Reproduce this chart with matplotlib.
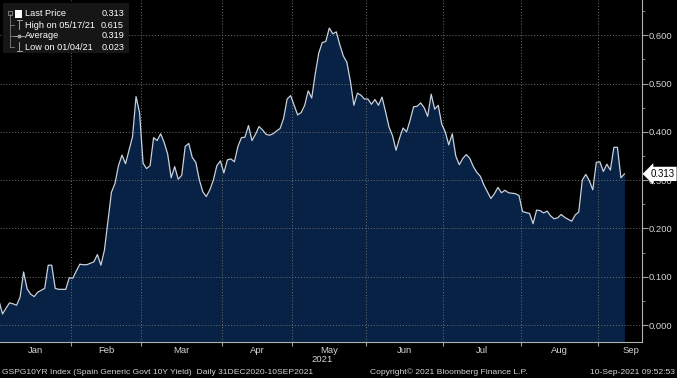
import numpy as np
import matplotlib
matplotlib.use('Agg')
import matplotlib.pyplot as plt
from matplotlib.ticker import MultipleLocator, FormatStrFormatter
from matplotlib.lines import Line2D
from matplotlib.patches import Rectangle
import matplotlib.transforms as mtransforms

plt.rcParams['font.family'] = ['Liberation Sans', 'DejaVu Sans']

# daily closes, one per trading day, 31 Dec 2020 .. 10 Sep 2021
yld = [0.050, 0.023, 0.035, 0.046, 0.044, 0.041, 0.058, 0.110, 0.075, 0.064,
       0.059, 0.068, 0.072, 0.076, 0.124, 0.124, 0.076, 0.074, 0.074, 0.074,
       0.098, 0.097, 0.112, 0.126, 0.125, 0.125, 0.128, 0.131, 0.146, 0.124,
       0.155, 0.215, 0.275, 0.293, 0.330, 0.352, 0.334, 0.362, 0.390, 0.473,
       0.440, 0.335, 0.324, 0.330, 0.388, 0.382, 0.396, 0.378, 0.354, 0.305,
       0.328, 0.302, 0.310, 0.370, 0.376, 0.347, 0.337, 0.301, 0.276, 0.266,
       0.280, 0.300, 0.330, 0.340, 0.315, 0.342, 0.344, 0.338, 0.370, 0.388,
       0.389, 0.413, 0.382, 0.395, 0.411, 0.404, 0.395, 0.393, 0.396, 0.402,
       0.407, 0.428, 0.468, 0.475, 0.455, 0.435, 0.440, 0.455, 0.485, 0.470,
       0.520, 0.563, 0.585, 0.587, 0.615, 0.603, 0.607, 0.580, 0.557, 0.544,
       0.505, 0.455, 0.480, 0.476, 0.468, 0.468, 0.457, 0.467, 0.455, 0.472,
       0.442, 0.410, 0.392, 0.362, 0.387, 0.408, 0.400, 0.424, 0.452, 0.453,
       0.460, 0.450, 0.432, 0.478, 0.447, 0.455, 0.416, 0.400, 0.373, 0.396,
       0.350, 0.332, 0.345, 0.353, 0.345, 0.328, 0.316, 0.308, 0.290, 0.276,
       0.262, 0.272, 0.285, 0.274, 0.279, 0.274, 0.273, 0.272, 0.268, 0.235,
       0.233, 0.231, 0.210, 0.238, 0.237, 0.232, 0.236, 0.226, 0.220, 0.222,
       0.229, 0.223, 0.219, 0.215, 0.228, 0.234, 0.300, 0.312, 0.299, 0.280,
       0.337, 0.338, 0.318, 0.333, 0.321, 0.368, 0.368, 0.305, 0.313]

months = ['Jan', 'Feb', 'Mar', 'Apr', 'May', 'Jun', 'Jul', 'Aug', 'Sep']
month_start = [1, 21, 41, 64, 84, 105, 127, 149, 171]   # index of first trading day

legend_names = ['Last Price', 'High on 05/17/21', 'Average', 'Low on 01/04/21']
legend_vals = ['0.313', '0.615', '0.319', '0.023']
last_price = '0.313'

footer_left = 'GSPG10YR Index (Spain Generic Govt 10Y Yield)  Daily 31DEC2020-10SEP2021'
footer_mid = 'Copyright\u00a9 2021 Bloomberg Finance L.P.'
footer_right = '10-Sep-2021 09:52:53'

txt = '#d4d4d4'
navy = '#072244'

x = np.arange(len(yld))
y = np.array(yld)

fig = plt.figure(figsize=(6.77, 3.78), dpi=100, facecolor='black')
ax = fig.add_axes([0, 36/378, 642/677, 342/378])
ax.set_facecolor('black')

ymin, ymax = -0.035, 0.673
ax.fill_between(x, y, ymin, color=navy, lw=0, zorder=1)
ax.plot(x, y, color='#c9d1dc', lw=0.9, zorder=3)

ax.set_xlim(0.28, 183.0)
ax.set_ylim(ymin, ymax)

bounds = [s - 0.5 for s in month_start]
centers = [(a + b) / 2 for a, b in zip([0] + bounds[1:], bounds[1:] + [189.5])]
ax.set_xticks(bounds[1:])
ax.set_xticklabels([])
ax.set_xticks(centers, minor=True)
ax.set_xticklabels(months, minor=True)
ax.tick_params(axis='x', which='major', direction='out', length=3, color='#a0a0a0')
ax.tick_params(axis='x', which='minor', length=0, pad=3, labelsize=6.8, labelcolor=txt)
ax.text(92, -0.052, '2021', transform=ax.get_xaxis_transform(), ha='center', va='center',
        fontsize=6.8, color=txt)

ax.yaxis.tick_right()
ax.yaxis.set_major_locator(MultipleLocator(0.1))
ax.yaxis.set_minor_locator(MultipleLocator(0.05))
ax.yaxis.set_major_formatter(FormatStrFormatter('%.3f'))
ax.tick_params(axis='y', which='major', direction='out', length=4, color='#a0a0a0',
               labelsize=6.8, labelcolor=txt, pad=1)
ax.tick_params(axis='y', which='minor', direction='out', length=2, color='#a0a0a0')

ax.grid(True, which='major', color='#707070', ls=(0, (1, 2)), lw=0.7)
for s in ['top', 'left']:
    ax.spines[s].set_visible(False)
for s in ['right', 'bottom']:
    ax.spines[s].set_color('#b0b0b0')
    ax.spines[s].set_linewidth(0.8)

# last price tag
trans = mtransforms.blended_transform_factory(ax.transAxes, ax.transData)
ax.text(1.013, y[-1], last_price, transform=trans, ha='left', va='center', fontsize=7,
        color='black', zorder=10, clip_on=False,
        bbox=dict(boxstyle='larrow,pad=0.22', fc='white', ec='none'))

# legend panel drawn in pixel space
ov = fig.add_axes([0, 0, 1, 1], facecolor='none')
ov.set_xlim(0, 677)
ov.set_ylim(378, 0)
ov.axis('off')
ov.add_patch(Rectangle((3, 3), 126, 50, fc='#161616', ec='none'))
rows = [14, 25, 36, 47]
ov.add_line(Line2D([10, 10], [14, 47], color='#808080', lw=0.6))
ov.add_patch(Rectangle((8, 11), 4, 4, fc='none', ec='#909090', lw=0.6))
ov.add_patch(Rectangle((15, 10), 7, 7.5, fc='white', ec='none'))
for r in rows[1:]:
    ov.add_line(Line2D([10, 14], [r, r], color='#808080', lw=0.6))
ov.add_line(Line2D([19, 19], [20, 29], color='#a0a0a0', lw=0.7))
ov.add_line(Line2D([16.5, 21.5], [20, 20], color='#a0a0a0', lw=0.7))
ov.add_line(Line2D([14, 24], [36, 36], color='#a0a0a0', lw=0.7))
ov.plot([19], [36], marker='o', ms=1.8, color='#a0a0a0')
ov.add_line(Line2D([19, 19], [42, 51], color='#a0a0a0', lw=0.7))
ov.add_line(Line2D([16.5, 21.5], [51, 51], color='#a0a0a0', lw=0.7))
for r, n, v in zip(rows, legend_names, legend_vals):
    ov.text(25, r, n, ha='left', va='center', fontsize=6.6, color='white')
    ov.text(124, r, v, ha='right', va='center', fontsize=6.6, color='white')

fig.text(2/677, 6/378, footer_left, ha='left', va='center', fontsize=6.1, color=txt)
fig.text(370/677, 6/378, footer_mid, ha='left', va='center', fontsize=6.1, color=txt)
fig.text(675/677, 6/378, footer_right, ha='right', va='center', fontsize=6.1, color=txt)

fig.savefig('out.png', dpi=100, facecolor='black')
